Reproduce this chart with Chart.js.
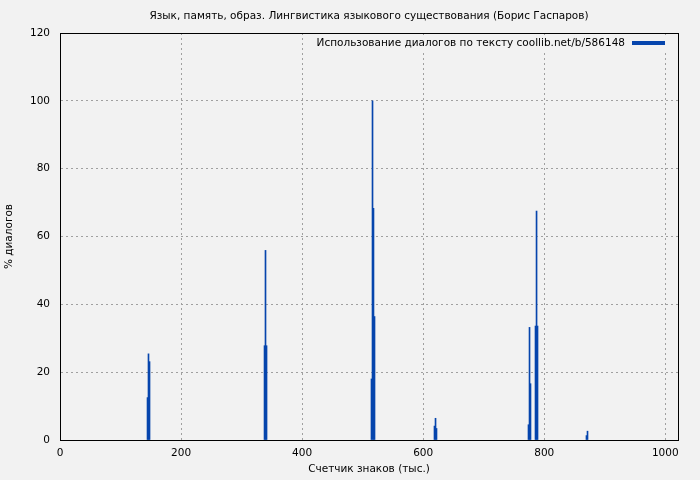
<!DOCTYPE html>
<html>
<head>
<meta charset="utf-8">
<script src="https://cdn.jsdelivr.net/npm/chart.js@4"></script>
<style>
  body { margin: 0; background: #f2f2f2; }
  canvas { display: block; }
</style>
</head>
<body>
<canvas id="chart" width="700" height="480"></canvas>
<script>
const chartTitle = 'Язык, память, образ. Лингвистика языкового существования (Борис Гаспаров)';
const legendLabel = 'Использование диалогов по тексту coollib.net/b/586148';
const xTitle = 'Счетчик знаков (тыс.)';
const yTitle = '% диалогов';

const xTicks = [0, 200, 400, 600, 800, 1000];
const yTicks = [0, 20, 40, 60, 80, 100, 120];

// position in text (thousands of chars) and % of dialogue there
const positions = [144.6, 146.2, 147.9,
  337.9, 339.5, 341.2,
  514.6, 516.3, 517.9, 519.6,
  618.7, 620.4, 622.0,
  774.0, 775.7, 777.3, 785.6, 787.3, 788.9,
  869.8, 871.5];
const dialogPercent = [12.5, 25.4, 23.1,
  27.8, 55.9, 27.8,
  18, 100, 68.3, 36.4,
  4.1, 6.4, 3.4,
  4.5, 33.2, 16.6, 33.6, 67.5, 33.6,
  1.3, 2.6];

const xMax = 1021;
const yMax = 120;
const barColor = '#0645ad';
const bgColor = '#f2f2f2';

Chart.defaults.font.family = 'DejaVu Sans';
Chart.defaults.font.size = 10.5;
Chart.defaults.color = '#000';

// title, legend and the frame are drawn like the gnuplot original
const decorations = {
  id: 'decorations',
  beforeDraw(chart) {
    const ctx = chart.ctx;
    ctx.save();
    ctx.fillStyle = bgColor;
    ctx.fillRect(0, 0, chart.width, chart.height);
    ctx.restore();
  },
  afterDraw(chart) {
    const { ctx, chartArea: a } = chart;
    ctx.save();
    ctx.font = '10.5px "DejaVu Sans"';
    ctx.fillStyle = '#000';
    ctx.textBaseline = 'middle';
    ctx.textAlign = 'center';
    ctx.fillText(chartTitle, (a.left + a.right) / 2, 16);

    // legend box hides the grid behind it
    ctx.fillStyle = bgColor;
    ctx.fillRect(308, 36, 366, 15);
    ctx.fillStyle = '#000';
    ctx.textAlign = 'right';
    ctx.fillText(legendLabel, 625, 43);
    ctx.fillStyle = barColor;
    ctx.fillRect(632, 41, 33, 4);

    ctx.strokeStyle = '#000';
    ctx.lineWidth = 1;
    ctx.strokeRect(Math.round(a.left) + 0.5, Math.round(a.top) + 0.5,
      Math.round(a.right - a.left), Math.round(a.bottom - a.top));
    ctx.restore();
  }
};

new Chart(document.getElementById('chart'), {
  type: 'bar',
  data: {
    datasets: [{
      label: legendLabel,
      data: positions.map((x, i) => ({ x: x, y: dialogPercent[i] })),
      backgroundColor: barColor,
      borderWidth: 0,
      barThickness: 1
    }]
  },
  options: {
    responsive: false,
    animation: false,
    devicePixelRatio: 1,
    layout: { padding: { top: 33, right: 22, bottom: 0, left: 0 } },
    plugins: {
      legend: { display: false },
      title: { display: false },
      tooltip: { enabled: false }
    },
    scales: {
      x: {
        type: 'linear',
        min: 0,
        max: xMax,
        offset: false,
        afterFit(scale) { scale.height = 40; },
        afterBuildTicks(scale) { scale.ticks = xTicks.map(v => ({ value: v })); },
        ticks: { maxRotation: 0, padding: 7, autoSkip: false, callback: v => String(v) },
        grid: { color: '#a0a0a0', drawTicks: false, offset: false },
        border: { color: '#000', dash: [2, 3] },
        title: { display: true, text: xTitle, padding: { top: 4, bottom: 4 } }
      },
      y: {
        min: 0,
        max: yMax,
        afterFit(scale) { scale.width = 60; },
        afterBuildTicks(scale) { scale.ticks = yTicks.map(v => ({ value: v })); },
        ticks: { padding: 10, autoSkip: false, callback: v => String(v) },
        grid: { color: '#a0a0a0', drawTicks: false },
        border: { color: '#000', dash: [2, 3] },
        title: { display: true, text: yTitle, padding: { top: 3, bottom: 4 } }
      }
    }
  },
  plugins: [decorations]
});
</script>
</body>
</html>
